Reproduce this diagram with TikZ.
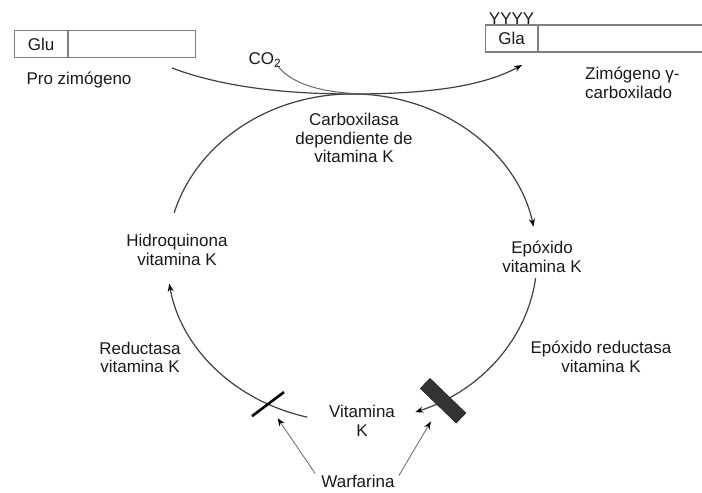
\documentclass[tikz,border=0pt]{standalone}
\usepackage{fontspec}
\setmainfont{Liberation Sans}
\usepackage{tikz}
\usetikzlibrary{arrows.meta}
\usetikzlibrary{calc}

\begin{document}
\begin{tikzpicture}[x=1pt,y=1pt,
    lbl/.style={font=\fontsize{17}{18.5}\selectfont, text=black!90, align=center, inner sep=1pt},
    seg/.style={draw=black!50, line width=1.2pt, fill=white, minimum height=27pt, inner sep=0pt,
      anchor=west, font=\fontsize{17}{18.5}\selectfont, text=black!90},
    cyc/.style={draw=black!75, line width=1.2pt},
    tip/.style={-{Stealth[length=8pt,width=6pt,color=black]}},
    inhib/.style={draw=black!55, line width=0.9pt}]
  \useasboundingbox (0,0) rectangle (702,493);

  % zymogen bars
  \node[seg, minimum width=53pt] (glu) at (14,449) {Glu};
  \node[seg, minimum width=127pt] (glubar) at (glu.east) {};
  \node[seg, minimum width=52pt] (gla) at (485,454.5) {Gla};
  \node[seg, minimum width=230pt] (glabar) at (gla.east) {};
  \node[lbl, anchor=south, inner sep=0pt] (yyyy) at (gla.north) {YYYY};

  % labels
  \node[lbl] (pro) at (79,413) {Pro zimógeno};
  \node[lbl] (co2) at (265,433) {CO\textsubscript{2}};
  \node[lbl, align=left, anchor=west] (zgc) at (584,410) {Zimógeno γ-\\carboxilado};
  \node[lbl] (carbox) at (354,355) {Carboxilasa\\dependiente de\\vitamina K};
  \node[lbl] (hq) at (177,243) {Hidroquinona\\vitamina K};
  \node[lbl] (epo) at (542,236) {Epóxido\\vitamina K};
  \node[lbl] (red) at (140,135.5) {Reductasa\\vitamina K};
  \node[lbl] (epored) at (601,136) {Epóxido reductasa\\vitamina K};
  \node[lbl] (vk) at (362,72) {Vitamina\\K};
  \node[lbl] (warf) at (358,12) {Warfarina};

  % vitamin K cycle
  \coordinate (cc) at (352,235);
  \path (cc) ++(164:185pt and 164pt) coordinate (hq-out)
        (cc) ++(90:185pt and 164pt) coordinate (cyctop)
        (cc) ++(-7:185pt and 164pt) coordinate (epo-out)
        (cc) ++(-104:185pt and 164pt) coordinate (vk-out)
        (cc) ++(-117:185pt and 164pt) coordinate (redblk)
        (cc) ++(-60.5:185pt and 164pt) coordinate (eporedblk);
  \draw[cyc, tip] (hq-out) arc[start angle=164, end angle=11, x radius=185pt, y radius=164pt];
  \draw[cyc, tip] (epo-out) arc[start angle=-7, end angle=-70, x radius=185pt, y radius=164pt];
  \draw[cyc, tip] (vk-out) arc[start angle=-104, end angle=-171, x radius=185pt, y radius=164pt];

  % carboxylation
  \coordinate (prostart) at (172,425);
  \coordinate (glatip) at (522,428);
  \coordinate (co2start) at (277,428);
  \coordinate (co2join) at (372,399);
  \draw[cyc, tip] (prostart) .. controls (225,405) and (290,399) .. (cyctop)
    .. controls (420,399) and (480,405) .. (glatip);
  \draw[draw=black!60, line width=1pt] (co2start) .. controls (290,410) and (320,399) .. (co2join);

  % blocked enzymes
  \node[fill=black, minimum width=40pt, minimum height=2.6pt, inner sep=0pt, rotate=37] (redbar) at (redblk) {};
  \node[fill=black!80, draw=black!90, minimum width=50pt, minimum height=14pt, inner sep=0pt, rotate=-44] (eporedbar) at (eporedblk) {};
  \path[-{Stealth[length=8pt,width=6pt,color=black]}]
    (warf.west) edge[inhib, shorten <=9pt, shorten >=17pt] (redbar.center)
    (warf.east) edge[inhib, shorten <=6pt, shorten >=24pt] (eporedbar.center);
\end{tikzpicture}
\end{document}
